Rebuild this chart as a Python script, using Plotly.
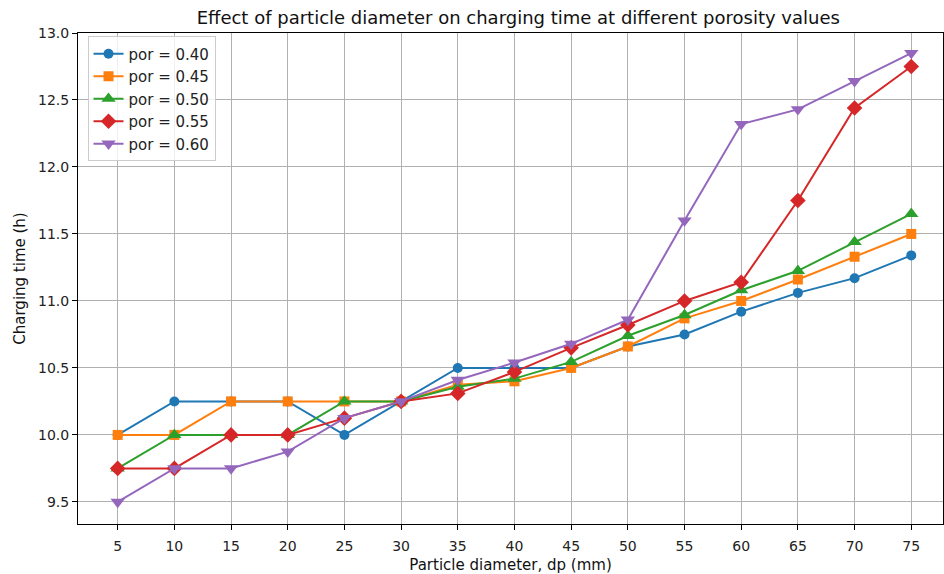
import plotly.graph_objects as go

dp = [5, 10, 15, 20, 25, 30, 35, 40, 45, 50, 55, 60, 65, 70, 75]
por_040 = [10.0, 10.25, 10.25, 10.25, 10.0, 10.25, 10.5, 10.5, 10.5, 10.66, 10.75, 10.92, 11.06, 11.17, 11.34]
por_045 = [10.0, 10.0, 10.25, 10.25, 10.25, 10.25, 10.375, 10.4, 10.5, 10.66, 10.87, 11.0, 11.16, 11.33, 11.5]
por_050 = [9.75, 10.0, 10.0, 10.0, 10.25, 10.25, 10.36, 10.42, 10.545, 10.74, 10.895, 11.08, 11.225, 11.44, 11.65]
por_055 = [9.75, 9.75, 10.0, 10.0, 10.125, 10.25, 10.31, 10.47, 10.65, 10.82, 11.0, 11.14, 11.75, 12.44, 12.75]
por_060 = [9.5, 9.75, 9.75, 9.875, 10.125, 10.25, 10.41, 10.54, 10.68, 10.86, 11.6, 12.32, 12.43, 12.64, 12.85]

series = [
    ("por = 0.40", por_040, "#1f77b4", "circle", 10),
    ("por = 0.45", por_045, "#ff7f0e", "square", 10),
    ("por = 0.50", por_050, "#2ca02c", "triangle-up", 12.5),
    ("por = 0.55", por_055, "#d62728", "diamond", 12),
    ("por = 0.60", por_060, "#9467bd", "triangle-down", 12.5),
]

fig = go.Figure()
for name, vals, color, sym, sz in series:
    fig.add_trace(go.Scatter(
        x=dp, y=vals, name=name, mode="lines+markers",
        line=dict(color=color, width=2),
        marker=dict(symbol=sym, size=sz, color=color),
    ))

font = "DejaVu Sans, Arial, sans-serif"
axis_common = dict(
    showgrid=True, gridcolor="#b0b0b0", gridwidth=1,
    showline=True, linecolor="black", linewidth=1, mirror=True,
    ticks="outside", ticklen=5, tickcolor="black",
    tickfont=dict(family=font, size=14, color="#222"),
    zeroline=False, automargin=False,
)

fig.update_layout(
    width=944, height=574,
    margin=dict(l=78, r=1, t=33, b=50),
    paper_bgcolor="white", plot_bgcolor="white",
    title=dict(text="Effect of particle diameter on charging time at different porosity values",
               x=0.549, xanchor="center", y=0.97, yanchor="middle",
               font=dict(family=font, size=18, color="#111")),
    xaxis=dict(range=[1.5, 77.8], tickmode="array", tickvals=dp, ticklabelstandoff=4,
               title=dict(text="Particle diameter, dp (mm)", font=dict(family=font, size=15, color="#111"), standoff=6),
               **axis_common),
    yaxis=dict(range=[9.335, 13.0], tickmode="array", tickvals=[9.5, 10.0, 10.5, 11.0, 11.5, 12.0, 12.5, 13.0],
               ticktext=["9.5", "10.0", "10.5", "11.0", "11.5", "12.0", "12.5", "13.0"],
               title=dict(text="Charging time (h)", font=dict(family=font, size=15, color="#111"), standoff=8),
               **axis_common),
    legend=dict(x=0.011, y=0.993, xanchor="left", yanchor="top",
                bgcolor="rgba(255,255,255,0.8)", bordercolor="#cccccc", borderwidth=1,
                font=dict(family=font, size=15, color="#222"),
                tracegroupgap=0, itemwidth=30),
    showlegend=True,
)

fig.write_html("out.html", config={"displayModeBar": False},
               post_script="document.body.style.margin='0';document.body.style.overflow='hidden';")
